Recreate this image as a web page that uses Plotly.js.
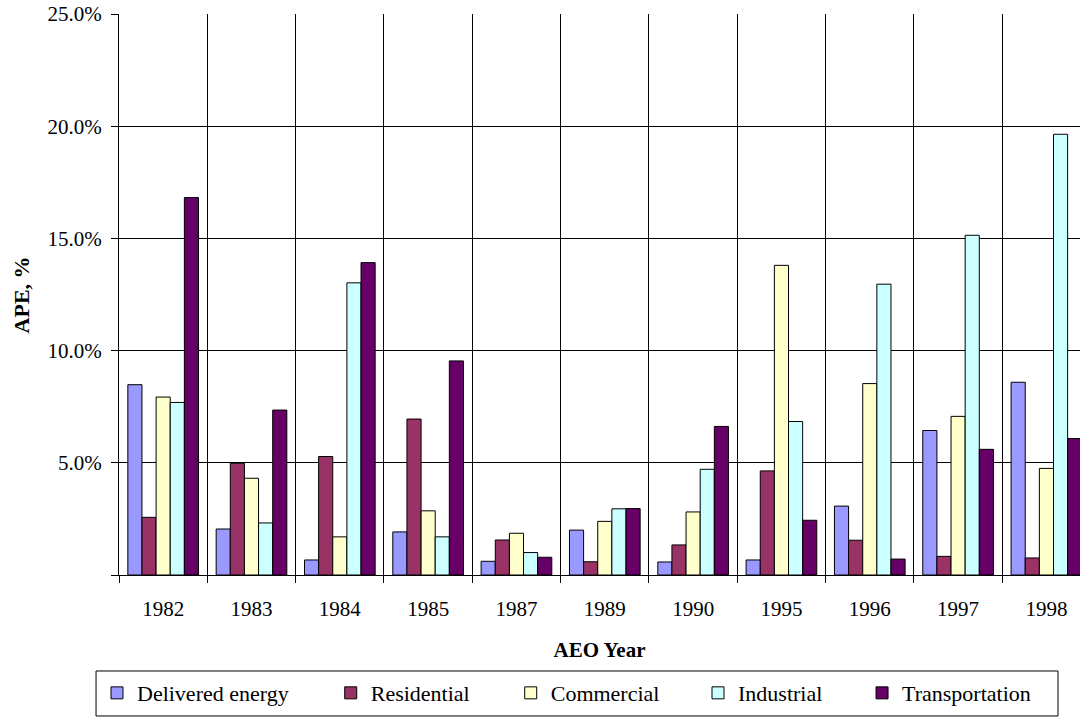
<!DOCTYPE html>
<html>
<head>
<meta charset="utf-8">
<script src="https://cdn.plot.ly/plotly-3.0.1.min.js"></script>
<style>html,body{margin:0;padding:0;background:#fff;}#chart{width:1080px;height:717px;}</style>
</head>
<body>
<div id="chart"></div>
<script>
const years = ['1982','1983','1984','1985','1987','1989','1990','1995','1996','1997','1998'];
const deliveredEnergy = [8.48, 2.05, 0.67, 1.92, 0.61, 2.00, 0.58, 0.67, 3.07, 6.44, 8.59];
const residential     = [2.57, 4.98, 5.28, 6.95, 1.56, 0.59, 1.34, 4.64, 1.55, 0.83, 0.76];
const commercial      = [7.93, 4.31, 1.70, 2.86, 1.86, 2.39, 2.81, 13.80, 8.53, 7.07, 4.75];
const industrial      = [7.69, 2.32, 13.02, 1.70, 1.00, 2.95, 4.71, 6.84, 12.96, 15.14, 19.64];
const transportation  = [16.82, 7.35, 13.92, 9.54, 0.79, 2.96, 6.62, 2.44, 0.71, 5.60, 6.08];
const seriesNames = ['Delivered energy','Residential','Commercial','Industrial','Transportation'];
const yTickVals = [0, 5, 10, 15, 20, 25];
const yTickText = ['', '5.0%', '10.0%', '15.0%', '20.0%', '25.0%'];

const colors = ['#9999FF','#993366','#FFFFCC','#CCFFFF','#660066'];
const seriesData = [deliveredEnergy, residential, commercial, industrial, transportation];
const FONT = 'Liberation Serif, Times New Roman, serif';
const legendIds = ['legend','legend2','legend3','legend4','legend5'];
const legendX = [-0.0229, 0.2203, 0.4076, 0.6025, 0.7732];

const traces = seriesData.map((vals, i) => ({
  type: 'bar',
  name: seriesNames[i],
  x: years,
  y: vals,
  legend: legendIds[i],
  marker: {color: colors[i], line: {color: '#000', width: 1}},
  hoverinfo: 'skip'
}));

const layout = {
  width: 1080, height: 717,
  margin: {l: 119, r: 0, t: 14, b: 142},
  paper_bgcolor: '#fff', plot_bgcolor: '#fff',
  font: {family: FONT, color: '#000', size: 21},
  barmode: 'group', bargap: 0.2, bargroupgap: 0,
  showlegend: true,
  xaxis: {
    type: 'category',
    range: [-0.5, 10.38],
    tickson: 'boundaries',
    showgrid: true, gridcolor: '#000', gridwidth: 1,
    ticks: 'outside', ticklen: 7, tickcolor: '#000', tickwidth: 1,
    ticklabelstandoff: 15,
    showline: true, linecolor: '#000', linewidth: 1,
    tickfont: {family: FONT, size: 21, color: '#000'},
    title: {text: 'AEO Year', font: {family: FONT, size: 21, color: '#000', weight: 'bold'}, standoff: 22},
    fixedrange: true
  },
  yaxis: {
    range: [0, 25],
    tickvals: yTickVals, ticktext: yTickText,
    showgrid: true, gridcolor: '#000', gridwidth: 1,
    zeroline: false,
    ticks: 'outside', ticklen: 7, tickcolor: '#000', tickwidth: 1,
    ticklabelstandoff: 5,
    showline: true, linecolor: '#000', linewidth: 1,
    tickfont: {family: FONT, size: 21, color: '#000'},
    fixedrange: true
  },
  shapes: [{
    type: 'rect', xref: 'paper', yref: 'paper',
    x0: -0.0239, x1: 0.9771, y0: -0.2513, y1: -0.1711,
    line: {color: '#000', width: 1}, fillcolor: 'rgba(0,0,0,0)', layer: 'above'
  }],
  annotations: [{
    text: 'APE, %', textangle: -90,
    xref: 'paper', yref: 'paper', x: -0.101, y: 0.5,
    xanchor: 'center', yanchor: 'middle', showarrow: false,
    font: {family: FONT, size: 22, color: '#000', weight: 'bold'}
  }]
};

legendIds.forEach((id, i) => {
  layout[id] = {
    orientation: 'h',
    x: legendX[i], xanchor: 'left',
    y: -0.173, yanchor: 'top',
    borderwidth: 0, bgcolor: 'rgba(0,0,0,0)',
    font: {family: FONT, size: 22, color: '#000'}
  };
});

Plotly.newPlot('chart', traces, layout, {staticPlot: true, displayModeBar: false});
</script>
</body>
</html>
